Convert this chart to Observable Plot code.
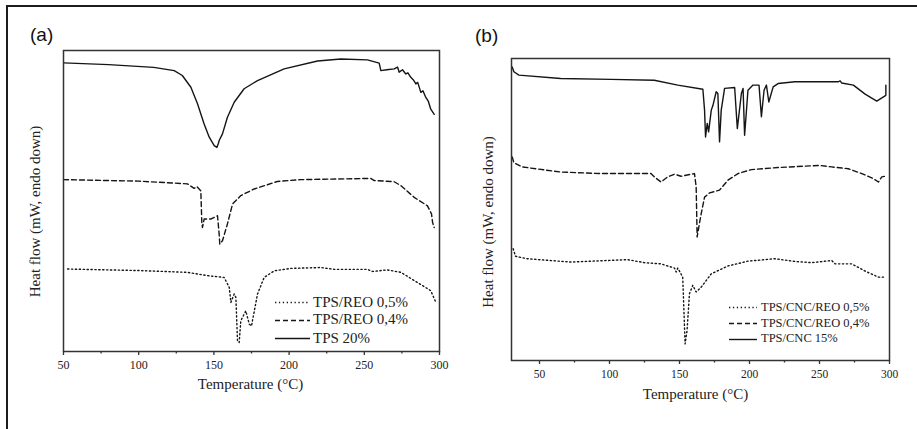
<!DOCTYPE html>
<html>
<head>
<meta charset="utf-8">
<script src="https://cdn.jsdelivr.net/npm/d3@7"></script>
<script src="https://cdn.jsdelivr.net/npm/@observablehq/plot@0.6"></script>
<style>
  html, body { margin: 0; padding: 0; background: #fff; }
  #wrap { position: relative; width: 917px; height: 429px; overflow: hidden; background: #fff; }
  #border { position: absolute; left: 6px; top: 5px; width: 940px; height: 460px; border-left: 2px solid #1c1c1c; border-top: 2px solid #1c1c1c; }
  .panel { position: absolute; top: 0; }
  .tag { position: absolute; font-family: "Liberation Sans", Arial, sans-serif; font-size: 19px; color: #111; line-height: 1; }
  .legend { position: absolute; font-family: "Liberation Serif", "Times New Roman", serif; color: #222; }
  .legend .row { position: absolute; white-space: nowrap; display: flex; align-items: center; }
  .legend svg { display: block; }
</style>
</head>
<body>
<div id="wrap">
  <div id="border"></div>
  <div class="panel" id="pa" style="left:0px"></div>
  <div class="panel" id="pb" style="left:460px"></div>
  <div class="tag" style="left:30px; top:25px">(a)</div>
  <div class="tag" style="left:475px; top:26px">(b)</div>
  <div class="legend" id="lega"></div>
  <div class="legend" id="legb"></div>
</div>
<script>
// ---------- DATA: panel (a) ----------  [temperature °C, heat flow (arb. units, endo down)]
const aLabels = ["TPS/REO 0,5%", "TPS/REO 0,4%", "TPS 20%"];
const aTicks = [50, 100, 150, 200, 250, 300];
const aMinorTicks = [75, 125, 175, 225, 275];
const aTps20 = [
  [50, 95.9], [80, 95.3], [110, 94.4], [123.6, 93.3], [129, 91.7], [134.7, 87.8], [139.1, 82.3],
  [143.5, 75.6], [146.9, 71.2], [150.2, 68.4], [152, 67.8], [153, 69.2], [153.5, 70.1], [155.7, 72.3],
  [159, 77.8], [163.5, 82.8], [170.1, 87.3], [179, 90], [196.7, 93.9], [218.9, 96.5], [234.4, 97.2],
  [252.1, 96.9], [259.9, 95.8], [261, 93.3], [265, 93.6], [269.9, 93.9], [272.1, 94.5], [273.2, 92.8],
  [275.4, 93.6], [277.6, 92.2], [279, 92.6], [280.9, 91.1], [282.5, 90.3], [284.3, 88.9], [285.5, 89.4],
  [287.6, 86.1], [289, 86.6], [290.9, 84.4], [292.5, 83.2], [294.2, 80.5], [296.5, 78.8]
];
const aReo04 = [
  [50, 57.1], [100, 56.6], [132.4, 55.7], [136.9, 54.2], [138.7, 54.8], [141.3, 53.4], [142, 42.4],
  [142.4, 41.2], [143.5, 44], [147.9, 44], [152.4, 45.1], [153.5, 39], [153.9, 35.7], [155.7, 36.8],
  [159, 42.4], [162.4, 49], [167.9, 51.8], [176.8, 54], [192.3, 56.5], [207.8, 57.1], [254.3, 57.5],
  [256.6, 56.8], [269.9, 56.4], [274.3, 55.1], [283.2, 51.2], [292, 48.4], [294.7, 45.7], [295.4, 42.9],
  [296.5, 41.2]
];
const aReo05 = [
  [52.7, 27.4], [100, 26.9], [132.4, 26.3], [145.7, 25.2], [156.8, 24.6], [160.2, 21.3], [161.3, 16.3],
  [163.5, 19.1], [164.6, 18], [165.7, 3.5], [166.8, 3], [167.9, 10.2], [171.2, 13.5], [173.5, 9.1],
  [175, 8.5], [179, 19.1], [183.4, 24.6], [190.1, 26.8], [201.2, 27.6], [221.1, 27.9], [230, 27.3],
  [252.1, 27.3], [255.4, 26.6], [265.4, 27.1], [274.3, 26.3], [285.4, 22.9], [294.2, 20.2], [297.6, 16.3]
];

// ---------- DATA: panel (b) ----------
const bLabels = ["TPS/CNC/REO 0,5%", "TPS/CNC/REO 0,4%", "TPS/CNC 15%"];
const bTicks = [50, 100, 150, 200, 250, 300];
const bMinorTicks = [75, 125, 175, 225, 275];
const bCnc15 = [
  [30.5, 97.2], [31.7, 95.6], [35.3, 94.5], [65.1, 93.4], [101, 93.1], [132, 92.8], [148.8, 91.2],
  [166.7, 89.8], [167.9, 82.9], [168.6, 74], [169.8, 78.5], [170.8, 75.7], [172.7, 82.9], [173.9, 84.5],
  [176.2, 89], [177.4, 88.4], [178.6, 72.4], [179.8, 82.9], [182.2, 90.1], [189.4, 90.4], [191.3, 76.8],
  [194.2, 88.4], [195.4, 90.1], [196.5, 74.6], [198.9, 89.5], [202.5, 91.2], [206.8, 91.2], [208.5, 80.7],
  [210.4, 89.5], [212.1, 91.2], [213.8, 85.6], [216.9, 90.6], [220.4, 91.7], [232.4, 92.3], [263.5, 92.3],
  [264.7, 92.6], [265.8, 91.9], [274.2, 91.2], [282.6, 88.2], [290.9, 85.9], [295.7, 87.3], [297.4, 87.8],
  [297.4, 91.2]
];
const bReo04 = [
  [30.5, 67.4], [31.7, 65.5], [37.6, 64.1], [65.1, 62.4], [93.8, 61.9], [129.6, 61.9], [132, 60.8],
  [136.8, 59.1], [141.6, 60.8], [146.4, 61.7], [151.1, 61], [160.7, 61.9], [161.9, 57.5], [162.6, 40.9],
  [163.8, 44.2], [165.5, 48.6], [167.9, 54.1], [171.5, 55.5], [178.6, 56.4], [184.6, 59.7], [191.8, 61.9],
  [201.3, 63.2], [220.4, 63.9], [250.3, 64.6], [258.7, 64.1], [270.6, 63.5], [280.2, 61.9], [288.5, 60.2],
  [292.1, 59.1], [294.5, 60.8], [296.9, 61]
];
const bReo05 = [
  [31.2, 37], [32.9, 34.5], [41.2, 33.7], [72.3, 32.6], [112.9, 33.4], [124.9, 32.4], [136.8, 32],
  [146.4, 30.6], [147.6, 29.3], [148.8, 30.6], [152.3, 27.6], [154, 5.5], [155.4, 9.9], [157.1, 22.1],
  [159.5, 24.9], [161.9, 22.7], [165.5, 24.3], [172.7, 28.7], [184.6, 31.3], [198.9, 32.9], [218.1, 33.7],
  [232.4, 32.8], [244.3, 32.4], [258.7, 33.1], [261.1, 32], [273, 32], [282.6, 29.6], [292.1, 27.6],
  [296.9, 27.6]
];

// ---------- STYLE ----------
const SERIF = '"Liberation Serif", "Times New Roman", serif';
const INK = "#151515";
const DASH = "5,3";
const DOT = "1.3,2.6";
const styles = [DOT, DASH, null];

function panel({width, height, ml, mr, mt, mb, domain, ticks, minor, series, xLabelDy, xLabelDx, yLabelDx, yLabelDy, tickFont}) {
  const lines = series.map((s, i) => Plot.line(s, {
    x: d => d[0], y: d => d[1], stroke: INK, strokeWidth: 1.4,
    strokeDasharray: styles[i], strokeLinejoin: "round"
  }));
  return Plot.plot({
    width, height, marginLeft: ml, marginRight: mr, marginTop: mt, marginBottom: mb,
    style: `font-family: ${SERIF}; background: transparent; color: #222; overflow: visible;`,
    x: {domain, axis: null},
    y: {domain: [0, 100], axis: null},
    marks: [
      ...lines,
      Plot.frame({stroke: "#333", strokeWidth: 1.5}),
      Plot.axisX({ticks, tickSize: 4, tickPadding: 5, tickFormat: d => String(d), fontSize: tickFont, fontFamily: SERIF, stroke: "#333", strokeWidth: 1.3, label: null}),
      Plot.axisX({ticks: minor, tickSize: 2.5, tickFormat: () => "", stroke: "#333", strokeWidth: 1.3, label: null}),
      Plot.text(["Temperature (°C)"], {frameAnchor: "bottom", textAnchor: "middle", dy: xLabelDy, dx: xLabelDx, fontSize: 15, fontFamily: SERIF, fill: "#222"}),
      Plot.text(["Heat flow (mW, endo down)"], {frameAnchor: "left", textAnchor: "middle", dx: yLabelDx, dy: yLabelDy, rotate: -90, fontSize: 15, fontFamily: SERIF, fill: "#222"})
    ]
  });
}

document.getElementById("pa").append(panel({
  width: 460, height: 429, ml: 63, mr: 21, mt: 50, mb: 78,
  domain: [50, 300], ticks: aTicks, minor: aMinorTicks,
  series: [aReo05, aReo04, aTps20],
  xLabelDy: 37, xLabelDx: -1, yLabelDx: -28, yLabelDy: 10.5, tickFont: 12
}));
document.getElementById("pb").append(panel({
  width: 457, height: 429, ml: 51, mr: 28, mt: 58, mb: 69,
  domain: [30, 300], ticks: bTicks, minor: bMinorTicks,
  series: [bReo05, bReo04, bCnc15],
  xLabelDy: 38, xLabelDx: -5, yLabelDx: -23, yLabelDy: 12.5, tickFont: 11.5
}));

// ---------- LEGENDS ----------
function legend(el, labels, {left, tops, lineW, gap, fontSize}) {
  el.style.left = left + "px";
  el.style.top = "0px";
  labels.forEach((lab, i) => {
    const row = document.createElement("div");
    row.className = "row";
    row.style.top = (tops[i] - 8) + "px";
    row.style.height = "16px";
    row.style.fontSize = fontSize + "px";
    const svg = d3.create("svg").attr("width", lineW + gap).attr("height", 16);
    svg.append("line").attr("x1", 0).attr("x2", lineW).attr("y1", 8.5).attr("y2", 8.5)
      .attr("stroke", INK).attr("stroke-width", 1.4)
      .attr("stroke-dasharray", styles[i]);
    row.append(svg.node());
    const span = document.createElement("span");
    span.textContent = lab;
    row.append(span);
    el.append(row);
  });
}
legend(document.getElementById("lega"), aLabels, {left: 275, tops: [302, 319.5, 338], lineW: 35, gap: 3, fontSize: 15});
legend(document.getElementById("legb"), bLabels, {left: 729, tops: [307, 323, 338.5], lineW: 28, gap: 4, fontSize: 12.5});
</script>
</body>
</html>
